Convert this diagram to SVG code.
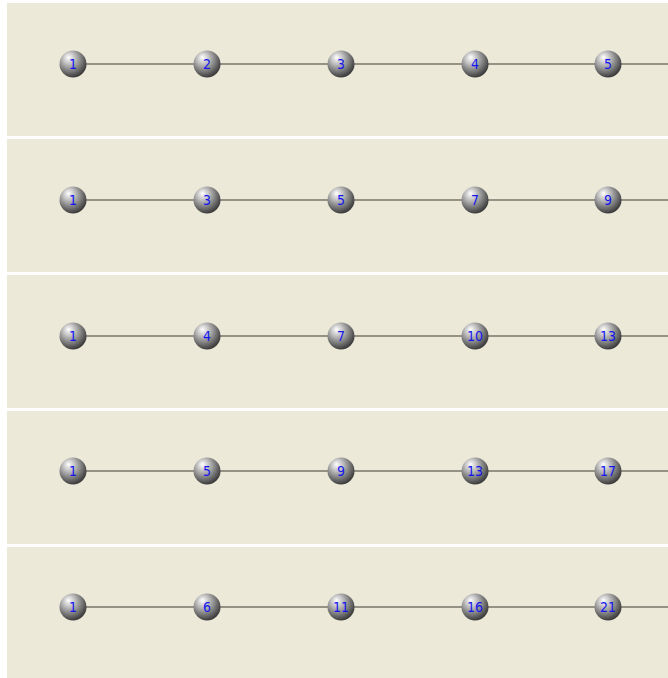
<svg xmlns="http://www.w3.org/2000/svg" width="668" height="678" viewBox="0 0 668 678">
<style>
.panel{fill:#ECE9D8}
.edge{stroke:#77746A;stroke-width:1.6;fill:none}
.ball{fill:url(#g)}
.lbl{font-family:"DejaVu Sans Condensed","DejaVu Sans",sans-serif;font-size:14px;fill:#1414F0;text-anchor:middle;dominant-baseline:central}
</style>
<defs>
<radialGradient id="g" cx="0.4" cy="0.35" r="0.7" fx="0.33" fy="0.25">
<stop offset="0" stop-color="#FFFFFF"/>
<stop offset="0.3" stop-color="#C4C4C4"/>
<stop offset="0.7" stop-color="#707070"/>
<stop offset="1" stop-color="#2E2E2E"/>
</radialGradient>
</defs>
<rect width="668" height="678" fill="#FFFFFF"/>
<rect class="panel" x="7" y="3" width="661" height="133"/>
<rect class="panel" x="7" y="139" width="661" height="133"/>
<rect class="panel" x="7" y="275" width="661" height="133"/>
<rect class="panel" x="7" y="411" width="661" height="133"/>
<rect class="panel" x="7" y="547" width="661" height="131"/>
<g id="connectors">
<line class="edge" x1="73" y1="64" x2="668" y2="64"/>
<line class="edge" x1="73" y1="200" x2="668" y2="200"/>
<line class="edge" x1="73" y1="336" x2="668" y2="336"/>
<line class="edge" x1="73" y1="471" x2="668" y2="471"/>
<line class="edge" x1="73" y1="607" x2="668" y2="607"/>
</g>
<g id="r1n1"><circle class="ball" cx="73" cy="64" r="13.5"/><text class="lbl" x="73" y="64">1</text></g>
<g id="r1n2"><circle class="ball" cx="207" cy="64" r="13.5"/><text class="lbl" x="207" y="64">2</text></g>
<g id="r1n3"><circle class="ball" cx="341" cy="64" r="13.5"/><text class="lbl" x="341" y="64">3</text></g>
<g id="r1n4"><circle class="ball" cx="475" cy="64" r="13.5"/><text class="lbl" x="475" y="64">4</text></g>
<g id="r1n5"><circle class="ball" cx="608" cy="64" r="13.5"/><text class="lbl" x="608" y="64">5</text></g>
<g id="r2n1"><circle class="ball" cx="73" cy="200" r="13.5"/><text class="lbl" x="73" y="200">1</text></g>
<g id="r2n2"><circle class="ball" cx="207" cy="200" r="13.5"/><text class="lbl" x="207" y="200">3</text></g>
<g id="r2n3"><circle class="ball" cx="341" cy="200" r="13.5"/><text class="lbl" x="341" y="200">5</text></g>
<g id="r2n4"><circle class="ball" cx="475" cy="200" r="13.5"/><text class="lbl" x="475" y="200">7</text></g>
<g id="r2n5"><circle class="ball" cx="608" cy="200" r="13.5"/><text class="lbl" x="608" y="200">9</text></g>
<g id="r3n1"><circle class="ball" cx="73" cy="336" r="13.5"/><text class="lbl" x="73" y="336">1</text></g>
<g id="r3n2"><circle class="ball" cx="207" cy="336" r="13.5"/><text class="lbl" x="207" y="336">4</text></g>
<g id="r3n3"><circle class="ball" cx="341" cy="336" r="13.5"/><text class="lbl" x="341" y="336">7</text></g>
<g id="r3n4"><circle class="ball" cx="475" cy="336" r="13.5"/><text class="lbl" x="475" y="336">10</text></g>
<g id="r3n5"><circle class="ball" cx="608" cy="336" r="13.5"/><text class="lbl" x="608" y="336">13</text></g>
<g id="r4n1"><circle class="ball" cx="73" cy="471" r="13.5"/><text class="lbl" x="73" y="471">1</text></g>
<g id="r4n2"><circle class="ball" cx="207" cy="471" r="13.5"/><text class="lbl" x="207" y="471">5</text></g>
<g id="r4n3"><circle class="ball" cx="341" cy="471" r="13.5"/><text class="lbl" x="341" y="471">9</text></g>
<g id="r4n4"><circle class="ball" cx="475" cy="471" r="13.5"/><text class="lbl" x="475" y="471">13</text></g>
<g id="r4n5"><circle class="ball" cx="608" cy="471" r="13.5"/><text class="lbl" x="608" y="471">17</text></g>
<g id="r5n1"><circle class="ball" cx="73" cy="607" r="13.5"/><text class="lbl" x="73" y="607">1</text></g>
<g id="r5n2"><circle class="ball" cx="207" cy="607" r="13.5"/><text class="lbl" x="207" y="607">6</text></g>
<g id="r5n3"><circle class="ball" cx="341" cy="607" r="13.5"/><text class="lbl" x="341" y="607">11</text></g>
<g id="r5n4"><circle class="ball" cx="475" cy="607" r="13.5"/><text class="lbl" x="475" y="607">16</text></g>
<g id="r5n5"><circle class="ball" cx="608" cy="607" r="13.5"/><text class="lbl" x="608" y="607">21</text></g>
</svg>
